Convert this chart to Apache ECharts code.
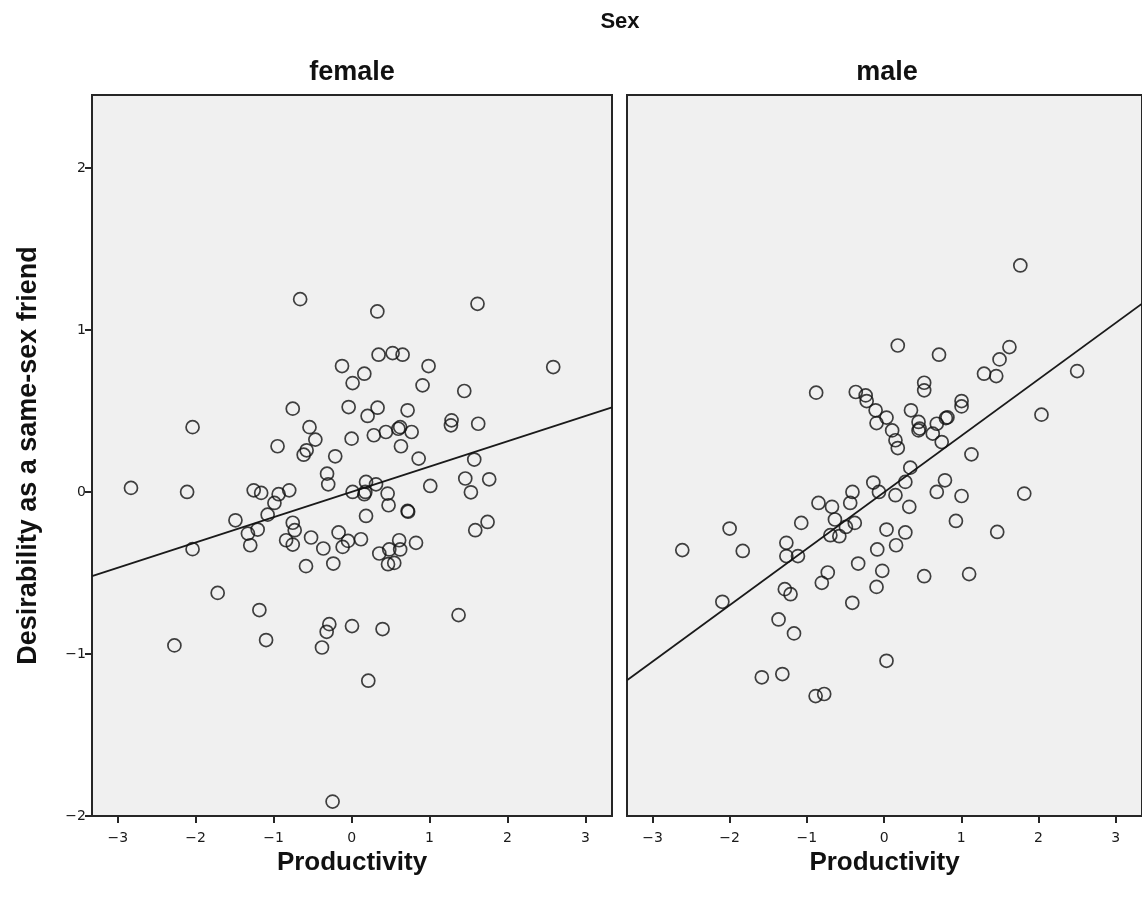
<!DOCTYPE html>
<html>
<head>
<meta charset="utf-8">
<title>Desirability by Productivity, split by Sex</title>
<script src="https://cdn.jsdelivr.net/npm/echarts@6/dist/echarts.min.js"></script>
<style>
  html, body { margin: 0; padding: 0; background: #ffffff; }
  #chart { width: 1142px; height: 900px; }
</style>
</head>
<body>
<div id="chart"></div>
<script>
// Tick positions shared by both panels
const xTicks = [-3, -2, -1, 0, 1, 2, 3];
const yTicks = [-2, -1, 0, 1, 2];

// Panel labels
const panelTitle = 'Sex';
const panelNames = ['female', 'male'];
const xAxisTitle = 'Productivity';
const yAxisTitle = 'Desirability as a same-sex friend';

// Female respondents
const femaleProductivity = [
  -0.66, 0.33, 1.615, -2.83, -2.04, -2.11, -2.04, -1.49, -1.33, -1.30,
  -1.205, -1.256, -1.16, -1.077, -0.99, -0.936, -0.80, -0.95, -0.755, -0.755,
  -0.73, -0.84, -0.755, -0.615, -0.577, -0.54, -0.465, -0.52, -0.585, -0.363,
  -0.21, -0.315, -0.30, -0.123, 0.013, -0.038, 0.0, 0.013, -0.167, -0.115,
  -0.046, -0.235, 0.346, 0.526, 0.654, 0.987, 0.163, 0.91, 1.445, 2.586,
  0.205, 0.333, 0.718, 0.623, 0.60, 0.44, 0.285, 0.77, 0.633, 0.86,
  1.282, 1.274, 1.624, 1.573, 1.458, 1.765, 1.53, 1.009, 1.744, 1.586,
  0.185, 0.176, 0.163, 0.313, 0.462, 0.474, 0.185, 0.718, 0.725, 0.12,
  0.61, 0.826, 0.355, 0.483, 0.623, 0.467, 0.547, -1.718, -1.183, -1.097,
  -2.273, -0.38, -0.286, -0.32, 0.005, -0.244, 0.397, 1.372, 0.214
];
const femaleDesirability = [
  1.19, 1.114, 1.161, 0.025, 0.40, 0.0, -0.353, -0.175, -0.257, -0.329,
  -0.232, 0.010, -0.006, -0.14, -0.068, -0.014, 0.01, 0.282, 0.514, -0.19,
  -0.236, -0.298, -0.325, 0.23, 0.257, 0.40, 0.323, -0.281, -0.458, -0.349,
  0.22, 0.113, 0.047, 0.777, 0.672, 0.524, 0.329, 0.0, -0.25, -0.339,
  -0.302, -0.442, 0.847, 0.857, 0.847, 0.777, 0.73, 0.658, 0.623, 0.771,
  0.469, 0.52, 0.504, 0.40, 0.39, 0.37, 0.35, 0.37, 0.282, 0.206,
  0.442, 0.411, 0.421, 0.2, 0.083, 0.078, -0.002, 0.037, -0.185, -0.236,
  0.062, 0.0, -0.014, 0.047, -0.01, -0.082, -0.148, -0.117, -0.122, -0.292,
  -0.298, -0.314, -0.38, -0.355, -0.355, -0.446, -0.438, -0.623, -0.729, -0.914,
  -0.947, -0.96, -0.816, -0.863, -0.828, -1.911, -0.846, -0.76, -1.165
];

// Male respondents
const maleProductivity = [
  1.764, -0.88, -0.367, -0.239, -0.226, -0.11, -0.098, -2.614, -2.001, -1.831,
  -1.266, -1.266, -1.116, -1.073, -0.85, -0.675, -0.637, -0.696, -0.58, -0.495,
  -0.38, -0.439, -0.41, -0.14, -0.067, 0.031, -0.089, -0.336, -0.024, -0.73,
  0.177, 0.711, 1.623, 1.495, 1.294, 1.452, 2.50, 0.519, 0.519, 1.003,
  1.003, 0.031, 0.348, 0.446, 0.446, 0.46, 0.682, 0.80, 0.82, 0.104,
  0.147, 0.177, 0.63, 0.746, 2.038, 1.131, 0.339, 0.275, 0.147, 0.788,
  0.682, 1.003, 1.815, 0.326, 0.275, 0.155, 0.93, 1.465, 0.519, 1.101,
  -2.095, -1.286, -1.212, -1.367, -1.167, -0.807, -0.098, -0.412, 0.031, -1.584,
  -1.318, -0.887, -0.776
];
const maleDesirability = [
  1.398, 0.613, 0.617, 0.596, 0.561, 0.504, 0.425, -0.359, -0.226, -0.364,
  -0.314, -0.396, -0.396, -0.191, -0.068, -0.092, -0.17, -0.267, -0.273, -0.216,
  -0.191, -0.068, 0.0, 0.058, 0.0, -0.232, -0.355, -0.442, -0.487, -0.497,
  0.904, 0.847, 0.894, 0.818, 0.73, 0.715, 0.746, 0.674, 0.627, 0.561,
  0.528, 0.459, 0.504, 0.432, 0.38, 0.391, 0.421, 0.456, 0.46, 0.38,
  0.319, 0.271, 0.36, 0.308, 0.477, 0.232, 0.15, 0.062, -0.02, 0.072,
  0.0, -0.025, -0.01, -0.092, -0.25, -0.329, -0.179, -0.247, -0.52, -0.507,
  -0.678, -0.60, -0.631, -0.787, -0.873, -0.561, -0.586, -0.684, -1.042, -1.144,
  -1.124, -1.26, -1.247
];

// Axis extents
const xMin = -3.33, xMax = 3.34;
const yMin = -2.0, yMax = 2.45;

function pairs(xs, ys) {
  return xs.map((x, i) => [x, ys[i]]);
}

// Ordinary least squares line across the full axis extent
function fitLine(xs, ys) {
  const n = xs.length;
  const mx = xs.reduce((a, b) => a + b, 0) / n;
  const my = ys.reduce((a, b) => a + b, 0) / n;
  let sxy = 0, sxx = 0;
  for (let i = 0; i < n; i++) {
    sxy += (xs[i] - mx) * (ys[i] - my);
    sxx += (xs[i] - mx) * (xs[i] - mx);
  }
  const b = sxy / sxx;
  const a = my - b * mx;
  return [[xMin, a + b * xMin], [xMax, a + b * xMax]];
}

const minus = v => String(v).replace('-', '\u2212');
const tickFont = { color: '#1a1a1a', fontFamily: 'DejaVu Sans', fontSize: 14 };
const titleFont = '"Liberation Sans", Arial, sans-serif';

const grids = [
  { left: 92, top: 95, width: 520, height: 721 },
  { left: 627, top: 95, width: 520, height: 721 }
].map(g => Object.assign(g, {
  show: true,
  backgroundColor: '#f0f0f0',
  borderColor: '#262626',
  borderWidth: 2,
  containLabel: false
}));

const xAxes = [0, 1].map(i => ({
  type: 'value',
  gridIndex: i,
  min: xMin,
  max: xMax,
  axisLine: { show: false, onZero: false },
  splitLine: { show: false },
  axisTick: {
    show: true, length: 7, customValues: xTicks,
    lineStyle: { color: '#262626', width: 2 }
  },
  axisLabel: {
    show: true, customValues: xTicks, margin: 15,
    formatter: minus, ...tickFont
  },
  name: xAxisTitle,
  nameLocation: 'middle',
  nameGap: 31,
  nameTextStyle: { fontFamily: titleFont, fontWeight: 'bold', fontSize: 26, color: '#111' }
}));

const yAxes = [
  {
    type: 'value',
    gridIndex: 0,
    min: yMin,
    max: yMax,
    axisLine: { show: false, onZero: false },
    splitLine: { show: false },
    axisTick: {
      show: true, length: 7, customValues: yTicks,
      lineStyle: { color: '#262626', width: 2 }
    },
    axisLabel: {
      show: true, customValues: yTicks, margin: 6,
      formatter: minus, ...tickFont
    },
    name: yAxisTitle,
    nameLocation: 'middle',
    nameGap: 50,
    nameTextStyle: { fontFamily: titleFont, fontWeight: 'bold', fontSize: 27, color: '#111' }
  },
  {
    type: 'value',
    gridIndex: 1,
    min: yMin,
    max: yMax,
    axisLine: { show: false, onZero: false },
    splitLine: { show: false },
    axisTick: { show: false },
    axisLabel: { show: false }
  }
];

const pointStyle = {
  color: 'rgba(0,0,0,0)',
  borderColor: '#111111',
  borderWidth: 1.7
};

const groups = [
  [femaleProductivity, femaleDesirability],
  [maleProductivity, maleDesirability]
];

const series = [];
groups.forEach(([xs, ys], i) => {
  series.push({
    type: 'scatter',
    xAxisIndex: i,
    yAxisIndex: i,
    symbol: 'circle',
    symbolSize: 13,
    itemStyle: pointStyle,
    data: pairs(xs, ys),
    silent: true,
    z: 3
  });
  series.push({
    type: 'line',
    xAxisIndex: i,
    yAxisIndex: i,
    data: fitLine(xs, ys),
    symbol: 'none',
    lineStyle: { color: '#1a1a1a', width: 1.8 },
    clip: true,
    silent: true,
    z: 2
  });
});

const header = (text, x, y, size) => ({
  type: 'text',
  x: x,
  y: y,
  style: {
    text: text,
    textAlign: 'center',
    textVerticalAlign: 'middle',
    fill: '#111',
    font: 'bold ' + size + 'px ' + titleFont
  }
});

const chart = echarts.init(document.getElementById('chart'), null, { renderer: 'canvas' });
chart.setOption({
  animation: false,
  backgroundColor: '#ffffff',
  grid: grids,
  xAxis: xAxes,
  yAxis: yAxes,
  series: series,
  graphic: [
    header(panelTitle, 620, 22, 22),
    header(panelNames[0], 352, 73, 27),
    header(panelNames[1], 887, 73, 27)
  ]
});
</script>
</body>
</html>
